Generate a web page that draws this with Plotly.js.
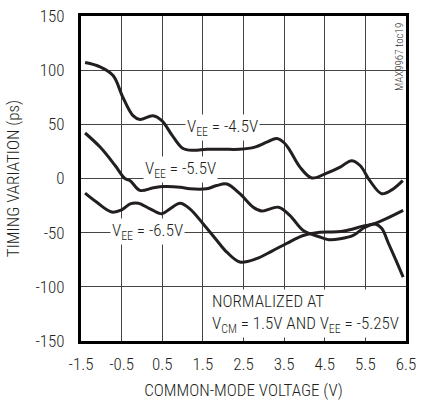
<!DOCTYPE html>
<html>
<head>
<meta charset="utf-8">
<script src="https://cdn.plot.ly/plotly-3.0.1.min.js"></script>
<style>html,body{margin:0;padding:0;background:#fff;}#chart{width:422px;height:400px;}</style>
</head>
<body>
<div id="chart"></div>
<script>
var xTicks = [-1.5, -0.5, 0.5, 1.5, 2.5, 3.5, 4.5, 5.5, 6.5];
var yTicks = [-150, -100, -50, 0, 50, 100, 150];

var vee45X = [-1.4,-1.03,-0.71,-0.47,-0.22,-0.05,0.27,0.49,0.74,1.0,1.26,1.6,2.0,2.4,2.78,3.07,3.32,3.5,3.64,3.89,4.18,4.55,4.88,5.16,5.37,5.61,5.9,6.15,6.42];
var vee45Y = [107,103,95,75,58,54.5,58,53.5,40,28,26,27,27,27,29,33.5,37,33,26,10.5,0.5,5,10.5,16.5,12,-2,-14,-10.5,-2];

var vee55X = [-1.4,-1.03,-0.66,-0.42,-0.29,-0.05,0.28,0.53,0.94,1.18,1.59,1.84,2.09,2.41,2.74,2.95,3.36,3.64,3.97,4.38,4.6,4.88,5.2,5.49,5.74,5.9,6.07,6.27,6.43];
var vee55Y = [42,29,12,0,-2,-11,-8.6,-7.4,-8,-9.5,-9.5,-6.5,-5,-14,-26.5,-30,-26.5,-34,-48,-54,-56.5,-55.7,-52.6,-45,-42,-46,-60,-77,-91];

var vee65X = [-1.4,-1.11,-0.74,-0.5,-0.29,-0.09,0.2,0.49,0.69,0.94,1.18,1.51,1.84,2.09,2.41,2.82,3.2,3.56,3.97,4.38,4.9,5.49,5.74,6.43];
var vee65Y = [-13.5,-22,-31,-29,-23.4,-22.8,-28,-32.6,-28,-22.8,-28,-42,-57,-68,-77,-74,-67,-60,-52.6,-49.6,-49,-43.5,-41.5,-29.5];

var FONT = '"Liberation Sans Narrow", "Arial Narrow", "Roboto Condensed", "Liberation Sans", sans-serif';
var INK = '#231f20';
var WEIGHT = 300;

function curve(x, y) {
  return {x: x, y: y, type: 'scatter', mode: 'lines',
    line: {color: INK, width: 3, shape: 'spline', smoothing: 1},
    hoverinfo: 'skip', showlegend: false};
}

var data = [curve(vee45X, vee45Y), curve(vee55X, vee55Y), curve(vee65X, vee65Y)];

function label(x, y, text, xanchor) {
  return {x: x, y: y, xref: 'x', yref: 'y', text: text, showarrow: false,
    xanchor: xanchor || 'center', yanchor: 'middle', align: 'left',
    font: {family: FONT, size: 17, color: INK, weight: WEIGHT},
    bgcolor: '#ffffff', borderpad: 1};
}

var tf = {family: FONT, size: 17, color: INK, weight: WEIGHT};

var layout = {
  width: 422, height: 400,
  margin: {l: 81, r: 16, t: 16, b: 59},
  paper_bgcolor: '#ffffff', plot_bgcolor: '#ffffff',
  font: tf,
  xaxis: {
    range: [-1.5, 6.5], tickvals: xTicks, ticktext: xTicks.map(String),
    showgrid: true, gridcolor: '#444444', gridwidth: 1,
    zeroline: false, showline: true, linecolor: '#000000', linewidth: 3, mirror: true,
    ticks: 'outside', ticklen: 6, tickcolor: 'rgba(0,0,0,0)', tickfont: tf,
    title: {text: 'COMMON-MODE VOLTAGE (V)', font: tf, standoff: 14},
    fixedrange: true
  },
  yaxis: {
    range: [-150, 150], tickvals: yTicks, ticktext: yTicks.map(String),
    showgrid: true, gridcolor: '#444444', gridwidth: 1,
    zeroline: false, showline: true, linecolor: '#000000', linewidth: 3, mirror: true,
    ticks: 'outside', ticklen: 10, tickcolor: 'rgba(0,0,0,0)', tickfont: tf,
    title: {text: 'TIMING VARIATION (ps)', font: tf, standoff: 12},
    fixedrange: true
  },
  annotations: [
    label(1.98, 47, 'V<sub>EE</sub> = -4.5V'),
    label(0.94, 8, 'V<sub>EE</sub> = -5.5V'),
    label(0.14, -49, 'V<sub>EE</sub> = -6.5V'),
    label(1.68, -124.5, 'NORMALIZED AT<br>V<sub>CM</sub> = 1.5V AND V<sub>EE</sub> = -5.25V', 'left'),
    {x: 413.5/422, y: 1 - 50/400, xref: 'paper', yref: 'paper', text: 'MAX9967 toc19',
     showarrow: false, textangle: -90, xanchor: 'center', yanchor: 'middle',
     font: {family: FONT, size: 11, color: '#333333', weight: WEIGHT}}
  ]
};

Plotly.newPlot('chart', data, layout, {staticPlot: true, displayModeBar: false});
</script>
</body>
</html>
